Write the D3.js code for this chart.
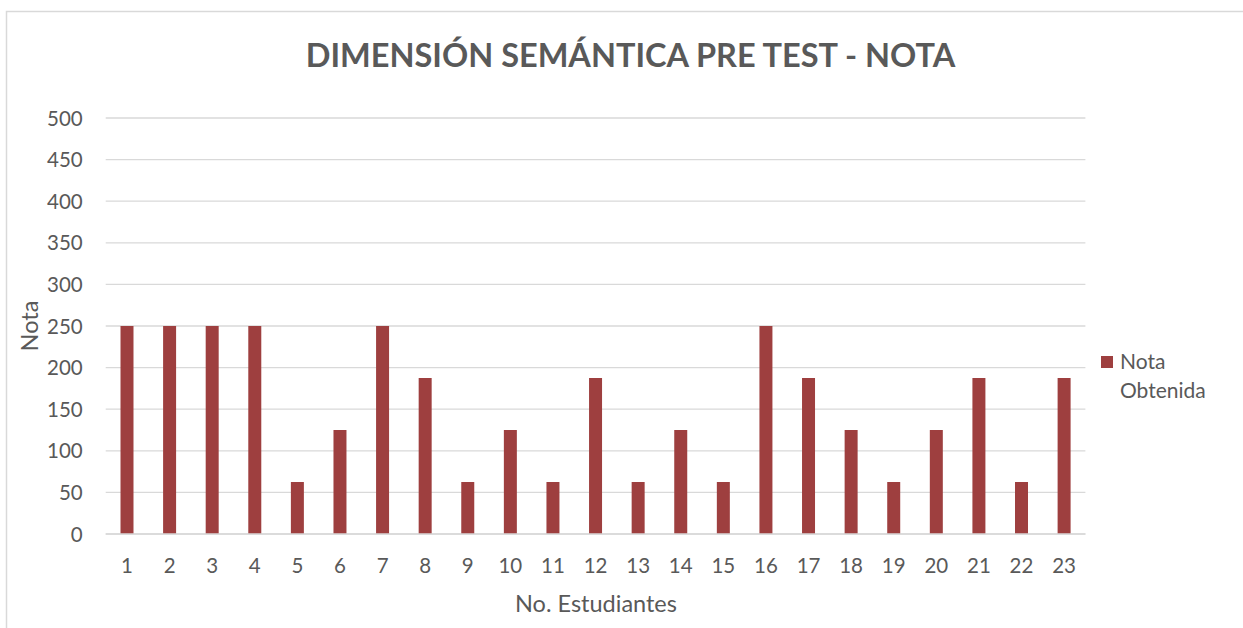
<!DOCTYPE html>
<html><head><meta charset="utf-8">
<script src="https://cdn.jsdelivr.net/npm/d3@7"></script>
<style>body{margin:0;background:#fff;} svg{display:block;}</style>
</head><body>
<script>
const categories = ["1","2","3","4","5","6","7","8","9","10","11","12","13","14","15","16","17","18","19","20","21","22","23"];
const notaObtenida = [250,250,250,250,62.5,125,250,187.5,62.5,125,62.5,187.5,62.5,125,62.5,250,187.5,125,62.5,125,187.5,62.5,187.5];
const yTicks = [0,50,100,150,200,250,300,350,400,450,500];
const seriesName = ["Nota", "Obtenida"];
const titleText = "DIMENSIÓN SEMÁNTICA PRE TEST - NOTA";
const xTitle = "No. Estudiantes";
const yTitle = "Nota";

const W = 1243, H = 628;
const font = "Lato, 'Open Sans', sans-serif";
const textColor = "#595959";
const barColor = "#9E3F3F";

const svg = d3.select("body").append("svg").attr("width", W).attr("height", H);
svg.append("rect").attr("x", 6.5).attr("y", 11.5).attr("width", W + 10).attr("height", H + 10)
  .attr("fill", "#fff").attr("stroke", "#d9d9d9").attr("stroke-width", 1.5);

const plot = {left: 105.7, right: 1085.4, top: 118, bottom: 534};
const x = d3.scaleBand().domain(categories).range([plot.left, plot.right]).paddingInner(0.695).paddingOuter(0.3475);
const y = d3.scaleLinear().domain([0, 500]).range([plot.bottom, plot.top]);

// gridlines
svg.append("g").selectAll("line").data(yTicks).join("line")
  .attr("x1", plot.left).attr("x2", plot.right)
  .attr("y1", d => y(d)).attr("y2", d => y(d))
  .attr("stroke", "#d9d9d9").attr("stroke-width", 1.3);

// y axis labels
const yAxis = d3.axisLeft(y).tickValues(yTicks).tickSize(0).tickPadding(0);
const gy = svg.append("g").attr("transform", `translate(${plot.left - 23},0)`).call(yAxis);
gy.select(".domain").remove();
gy.selectAll("text").attr("font-family", font).attr("font-size", 20.5).attr("fill", textColor).attr("dy", "0.35em");

// bars
svg.append("g").selectAll("rect").data(notaObtenida).join("rect")
  .attr("x", (d, i) => x(categories[i]))
  .attr("width", x.bandwidth())
  .attr("y", d => y(d))
  .attr("height", d => y(0) - y(d))
  .attr("fill", barColor);

// baseline
svg.append("line").attr("x1", plot.left).attr("x2", plot.right).attr("y1", y(0)).attr("y2", y(0))
  .attr("stroke", "#d9d9d9").attr("stroke-width", 1.5);

// x axis labels
const xAxis = d3.axisBottom(x).tickSize(0).tickPadding(0);
const gx = svg.append("g").attr("transform", `translate(0,${plot.bottom + 32})`).call(xAxis);
gx.select(".domain").remove();
gx.selectAll("text").attr("font-family", font).attr("font-size", 20.5).attr("fill", textColor).attr("dy", "0.35em");

// title
svg.append("text").attr("x", 630.5).attr("y", 67).attr("text-anchor", "middle")
  .attr("font-family", font).attr("font-weight", "bold").attr("font-size", 32.5)
  .attr("fill", textColor).text(titleText);

// axis titles
svg.append("text").attr("x", 596).attr("y", 612).attr("text-anchor", "middle")
  .attr("font-family", font).attr("font-size", 23.5).attr("fill", textColor).text(xTitle);
svg.append("text").attr("transform", "translate(38,326) rotate(-90)").attr("text-anchor", "middle")
  .attr("font-family", font).attr("font-size", 23.5).attr("fill", textColor).text(yTitle);

// legend
const lg = svg.append("g");
lg.append("rect").attr("x", 1101).attr("y", 356).attr("width", 12).attr("height", 12).attr("fill", barColor);
lg.selectAll("text").data(seriesName).join("text")
  .attr("x", 1120).attr("y", (d, i) => 369 + i * 29)
  .attr("font-family", font).attr("font-size", 21).attr("fill", textColor).text(d => d);
</script>
</body></html>
